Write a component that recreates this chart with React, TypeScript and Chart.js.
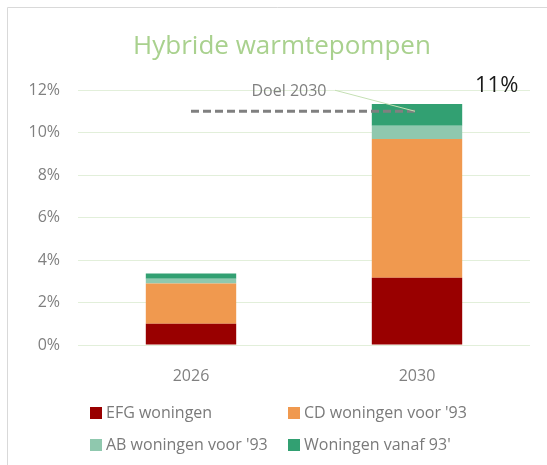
import React, { useEffect, useRef } from "react";
import { Chart, registerables } from "chart.js";

Chart.register(...registerables);

const title = "Hybride warmtepompen";
const categories = ["2026", "2030"];
const efg = [1.0, 3.17];
const cd = [1.9, 6.52];
const ab = [0.22, 0.63];
const vanaf = [0.25, 1.02];
const goal = [11, 11];
const goalLabel = "Doel 2030";
const goalValueLabel = "11%";
const yTicks = [0, 2, 4, 6, 8, 10, 12];
const seriesLabels = ["EFG woningen", "CD woningen voor '93", "AB woningen voor '93", "Woningen vanaf 93'"];
const seriesColors = ["#990000", "#F0994F", "#8FC8AE", "#32A072"];

const FONT = "'Open Sans', 'Noto Sans', sans-serif";

const decorPlugin = {
  id: "decor",
  afterDraw(chart: any) {
    const ctx = chart.ctx;
    const xs = chart.scales.x;
    const ys = chart.scales.y;
    ctx.save();
    // outer chart border (top/left)
    ctx.strokeStyle = "#d9d9d9";
    ctx.lineWidth = 1;
    ctx.beginPath();
    ctx.moveTo(7.5, 465);
    ctx.lineTo(7.5, 7.5);
    ctx.lineTo(547, 7.5);
    ctx.stroke();

    // title
    ctx.fillStyle = "#A9D18E";
    ctx.font = `26px ${FONT}`;
    ctx.textAlign = "center";
    ctx.textBaseline = "middle";
    ctx.fillText(title, 282, 47);

    // goal annotation
    const gx = xs.getPixelForValue(1);
    const gy = ys.getPixelForValue(goal[1]);
    ctx.strokeStyle = "#C5E0B4";
    ctx.lineWidth = 1;
    ctx.beginPath();
    ctx.moveTo(gx - 82, gy - 21);
    ctx.lineTo(gx - 2, gy);
    ctx.stroke();
    ctx.fillStyle = "#808080";
    ctx.font = `16px ${FONT}`;
    ctx.textAlign = "center";
    ctx.fillText(goalLabel, gx - 128, gy - 20);

    ctx.fillStyle = "#1a1a1a";
    ctx.font = `22px ${FONT}`;
    ctx.textAlign = "left";
    ctx.fillText(goalValueLabel, gx + 58, gy - 26);

    // legend
    const rows = [413, 445];
    const cols = [90, 288];
    ctx.font = `16px ${FONT}`;
    ctx.textAlign = "left";
    ctx.textBaseline = "middle";
    seriesLabels.forEach((lab, i) => {
      const x = cols[i % 2];
      const y = rows[Math.floor(i / 2)];
      ctx.fillStyle = seriesColors[i];
      ctx.fillRect(x, y - 6, 12, 12);
      ctx.fillStyle = "#7a7a7a";
      ctx.fillText(lab, x + 16, y);
    });
    ctx.restore();
  },
};

export default function App() {
  const ref = useRef<HTMLCanvasElement | null>(null);
  useEffect(() => {
    if (!ref.current) return;
    const series = [efg, cd, ab, vanaf];
    const chart = new Chart(ref.current, {
      type: "bar",
      data: {
        labels: categories,
        datasets: [
          {
            type: "line",
            label: goalLabel,
            data: goal,
            borderColor: "#808080",
            borderWidth: 3,
            borderDash: [8, 4],
            pointRadius: 0,
            fill: false,
            stack: "goal",
            order: -1,
          } as any,
          ...series.map((d, i) => ({
            type: "bar",
            label: seriesLabels[i],
            data: d,
            backgroundColor: seriesColors[i],
            borderWidth: 0,
            stack: "s",
            categoryPercentage: 1,
            barPercentage: 0.4,
          })),
        ],
      },
      options: {
        responsive: true,
        maintainAspectRatio: false,
        animation: false,
        layout: { padding: { top: 90, right: 17, left: 0, bottom: 0 } },
        plugins: {
          legend: { display: false },
          title: { display: false },
          tooltip: { enabled: false },
        },
        scales: {
          x: {
            stacked: true,
            grid: { display: false },
            border: { display: false },
            ticks: { color: "#808080", font: { family: FONT, size: 16 }, padding: 14 },
            afterFit: (s: any) => {
              s.height = 120;
            },
          },
          y: {
            stacked: true,
            min: 0,
            max: 12,
            afterBuildTicks: (s: any) => {
              s.ticks = yTicks.map((v) => ({ value: v }));
            },
            ticks: {
              color: "#808080",
              font: { family: FONT, size: 16 },
              padding: 18,
              callback: (v: any) => `${v}%`,
            },
            grid: { color: "#E2EFDA", drawTicks: false },
            border: { display: false },
            afterFit: (s: any) => {
              s.width = 78;
            },
          },
        },
      } as any,
      plugins: [decorPlugin],
    });
    return () => chart.destroy();
  }, []);
  return (
    <div style={{ position: "absolute", left: 0, top: 0, width: 547, height: 465, background: "#fff" }}>
      <canvas ref={ref} />
    </div>
  );
}
